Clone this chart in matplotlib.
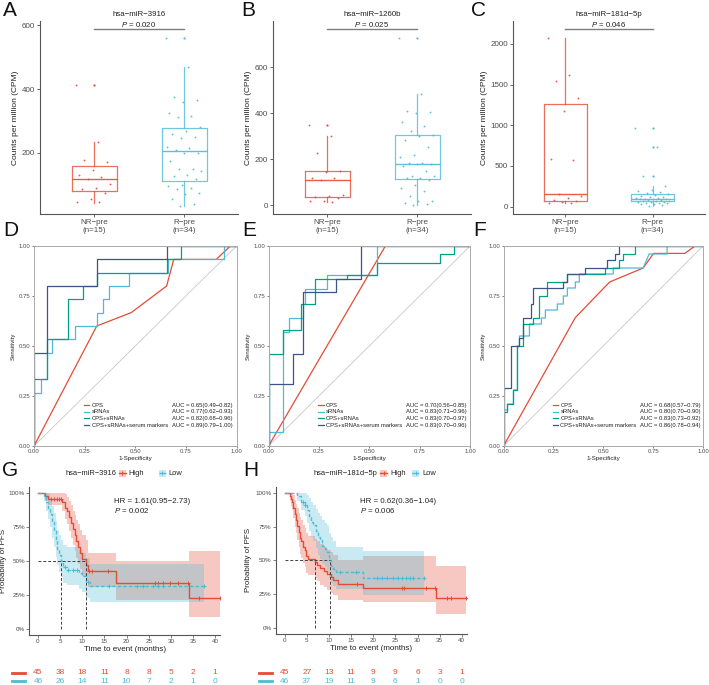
import numpy as np
import matplotlib
matplotlib.use('Agg')
import matplotlib.pyplot as plt
import matplotlib.transforms as mtrans
from matplotlib.lines import Line2D
from matplotlib.patches import Rectangle

plt.rcParams['font.family'] = ['Liberation Sans', 'DejaVu Sans']
plt.rcParams['mathtext.fontset'] = 'custom'
plt.rcParams['mathtext.it'] = 'Liberation Sans:italic'
plt.rcParams['mathtext.rm'] = 'Liberation Sans'

W, H = 709, 685
RED, CYAN, TEAL, NAVY = '#E64B35', '#4DBBD5', '#00A087', '#3C5488'
TXT = '#4D4D4D'

# ---------------- data: box plots ----------------
box_groups = ['NR−pre\n(n=15)', 'R−pre\n(n=34)']
box_titles = ['hsa−miR−3916', 'hsa−miR−1260b', 'hsa−miR−181d−5p']
box_p = ['0.020', '0.025', '0.046']
box_pbar = [588, 764, 2179]
box_yticks = [[200, 400, 600], [0, 200, 400, 600], [0, 500, 1000, 1500, 2000]]

a_nr_stats = [42, 80, 117, 158, 233]
a_r_stats = [34, 111, 205, 277, 470]
a_nr_out = [414]
a_r_out = [562]
a_nr_pts = [414, 233, 177, 172, 145, 129, 125, 117, 103, 90, 87, 75, 56, 47, 46]
a_r_pts = [562, 470, 376, 366, 361, 325, 315, 313, 280, 268, 258, 250, 248, 218, 215, 210, 200,
           198, 175, 150, 148, 143, 130, 128, 118, 100, 95, 90, 85, 75, 72, 55, 40, 34]

b_nr_stats = [16, 37, 109, 149, 301]
b_r_stats = [0, 112, 181, 307, 482]
b_nr_out = [348]
b_r_out = [728]
b_nr_pts = [348, 301, 228, 150, 145, 120, 118, 109, 45, 40, 35, 30, 20, 18, 16]
b_r_pts = [728, 482, 408, 405, 400, 360, 345, 322, 305, 300, 282, 255, 218, 210, 185, 182, 180,
           178, 170, 148, 128, 125, 120, 118, 108, 90, 75, 62, 40, 20, 18, 8, 4, 2]

c_nr_stats = [40, 68, 160, 1256, 2073]
c_r_stats = [12, 65, 98, 160, 250]
c_nr_out = []
c_r_out = [970, 730, 380]
c_nr_pts = [2073, 1620, 1540, 1330, 1180, 590, 570, 160, 130, 110, 80, 70, 60, 50, 40]
c_r_pts = [970, 730, 380, 250, 210, 195, 180, 165, 155, 145, 135, 125, 118, 110, 105, 100, 98,
           95, 90, 85, 80, 75, 70, 66, 62, 58, 54, 50, 45, 40, 35, 28, 20, 12]

# ---------------- data: ROC ----------------
roc_names = ['CPS', 'sRNAs', 'CPS+sRNAs', 'CPS+sRNAs+serum markers']
d_cps_x = [0, 0.31, 0.48, 0.655, 0.69, 0.90, 0.97, 1.0]
d_cps_y = [0, 0.60, 0.667, 0.80, 0.933, 0.933, 1.0, 1.0]
d_srna_x = [0, 0, 0.033, 0.033, 0.066, 0.066, 0.09, 0.09, 0.2, 0.2, 0.31, 0.31, 0.34, 0.34, 0.37,
            0.37, 0.47, 0.47, 0.66, 0.66, 0.94, 0.94, 1.0]
d_srna_y = [0, 0.267, 0.267, 0.333, 0.333, 0.467, 0.467, 0.533, 0.533, 0.6, 0.6, 0.667, 0.667,
            0.733, 0.733, 0.8, 0.8, 0.867, 0.867, 0.933, 0.933, 1.0, 1.0]
d_comb_x = [0, 0, 0.066, 0.066, 0.17, 0.17, 0.24, 0.24, 0.31, 0.31, 0.655, 0.655, 0.725, 0.725, 1.0]
d_comb_y = [0, 0.333, 0.333, 0.533, 0.533, 0.733, 0.733, 0.8, 0.8, 0.867, 0.867, 0.933, 0.933, 1.0, 1.0]
d_all_x = [0, 0, 0.066, 0.066, 0.31, 0.31, 0.655, 0.655, 1.0]
d_all_y = [0, 0.467, 0.467, 0.8, 0.8, 0.933, 0.933, 1.0, 1.0]
d_auc = ['0.65(0.49−0.82)', '0.77(0.62−0.93)', '0.82(0.68−0.96)', '0.89(0.79−1.00)']

e_cps_x = [0, 0.58, 1.0]
e_cps_y = [0, 1.0, 1.0]
e_srna_x = [0, 0, 0.071, 0.071, 0.1, 0.1, 0.17, 0.17, 0.18, 0.18, 0.29, 0.29, 0.537, 0.537, 1.0]
e_srna_y = [0, 0.07, 0.07, 0.57, 0.57, 0.64, 0.64, 0.71, 0.71, 0.786, 0.786, 0.857, 0.857, 1.0, 1.0]
e_comb_x = [0, 0, 0.071, 0.071, 0.16, 0.16, 0.23, 0.23, 0.39, 0.39, 0.537, 0.537, 0.85, 0.85,
            0.92, 0.92, 1.0]
e_comb_y = [0, 0.46, 0.46, 0.58, 0.58, 0.71, 0.71, 0.833, 0.833, 0.857, 0.857, 0.917, 0.917,
            0.958, 0.958, 1.0, 1.0]
e_all_x = [0, 0, 0.124, 0.124, 0.169, 0.169, 0.336, 0.336, 0.46, 0.46, 1.0]
e_all_y = [0, 0.31, 0.31, 0.46, 0.46, 0.77, 0.77, 0.833, 0.833, 1.0, 1.0]
e_auc = ['0.70(0.56−0.85)', '0.83(0.71−0.96)', '0.83(0.70−0.97)', '0.83(0.70−0.96)']

f_cps_x = [0, 0.36, 0.532, 0.70, 0.752, 0.909, 0.96, 1.0]
f_cps_y = [0, 0.642, 0.82, 0.89, 0.963, 0.963, 1.0, 1.0]
f_srna_x = [0, 0, 0.02, 0.02, 0.05, 0.05, 0.07, 0.07, 0.08, 0.08, 0.13, 0.13, 0.19, 0.19, 0.21,
            0.21, 0.27, 0.27, 0.30, 0.30, 0.32, 0.32, 0.36, 0.36, 0.38, 0.38, 0.55, 0.55, 0.70,
            0.73, 0.82, 0.82, 1.0]
f_srna_y = [0, 0.18, 0.18, 0.21, 0.21, 0.28, 0.28, 0.50, 0.50, 0.55, 0.55, 0.61, 0.61, 0.64, 0.64,
            0.68, 0.68, 0.71, 0.71, 0.75, 0.75, 0.79, 0.79, 0.82, 0.82, 0.86, 0.86, 0.89, 0.89,
            0.96, 0.96, 1.0, 1.0]
f_comb_x = [0, 0, 0.02, 0.02, 0.05, 0.05, 0.07, 0.07, 0.10, 0.10, 0.15, 0.15, 0.18, 0.18, 0.22,
            0.22, 0.32, 0.32, 0.51, 0.51, 0.58, 0.58, 0.60, 0.60, 0.66, 0.66, 1.0]
f_comb_y = [0, 0.17, 0.17, 0.21, 0.21, 0.28, 0.28, 0.50, 0.50, 0.61, 0.61, 0.64, 0.64, 0.75, 0.75,
            0.82, 0.82, 0.86, 0.86, 0.89, 0.89, 0.93, 0.93, 0.96, 0.96, 1.0, 1.0]
f_all_x = [0, 0, 0.04, 0.04, 0.08, 0.08, 0.10, 0.10, 0.14, 0.14, 0.15, 0.15, 0.30, 0.30, 0.32,
           0.32, 0.41, 0.41, 0.52, 0.52, 0.56, 0.56, 0.58, 0.58, 1.0]
f_all_y = [0, 0.29, 0.29, 0.50, 0.50, 0.54, 0.54, 0.64, 0.64, 0.71, 0.71, 0.79, 0.79, 0.82, 0.82,
           0.86, 0.86, 0.89, 0.89, 0.93, 0.93, 0.96, 0.96, 1.0, 1.0]
f_auc = ['0.68(0.57−0.79)', '0.80(0.70−0.90)', '0.83(0.73−0.92)', '0.86(0.78−0.94)']

# ---------------- data: Kaplan-Meier ----------------
km_times = [0, 5, 10, 15, 20, 25, 30, 35, 40]

g_hi_t = [0, 1.7, 2.3, 5.5, 6.0, 6.5, 7.0, 7.5, 8.0, 8.3, 8.7, 9.0, 9.5, 10.0, 10.9, 11.3, 17.6, 34.0, 41.0]
g_hi_s = [1.0, 0.978, 0.956, 0.933, 0.89, 0.867, 0.822, 0.78, 0.733, 0.69, 0.644, 0.6, 0.556,
          0.511, 0.467, 0.425, 0.336, 0.226, 0.226]
g_hi_up = [1.0, 1.0, 1.0, 1.0, 0.99, 0.97, 0.94, 0.91, 0.87, 0.84, 0.8, 0.77, 0.73, 0.69, 0.65,
           0.56, 0.5, 0.57, 0.57]
g_hi_lo = [1.0, 0.94, 0.91, 0.87, 0.81, 0.77, 0.72, 0.67, 0.62, 0.57, 0.52, 0.48, 0.44, 0.39,
           0.35, 0.31, 0.21, 0.09, 0.09]
g_lo_t = [0, 1.3, 1.8, 2.3, 2.8, 3.2, 3.6, 4.0, 4.4, 4.8, 5.2, 5.6, 6.5, 9.3, 9.9, 10.8, 11.8, 37.5]
g_lo_s = [1.0, 0.978, 0.935, 0.891, 0.848, 0.783, 0.717, 0.652, 0.587, 0.543, 0.5, 0.457, 0.435,
          0.413, 0.391, 0.348, 0.316, 0.316]
g_lo_up = [1.0, 1.0, 1.0, 1.0, 0.96, 0.9, 0.85, 0.79, 0.73, 0.69, 0.65, 0.62, 0.6, 0.58, 0.56,
           0.52, 0.48, 0.48]
g_lo_lo = [1.0, 0.94, 0.87, 0.81, 0.75, 0.67, 0.6, 0.53, 0.47, 0.42, 0.38, 0.34, 0.32, 0.29, 0.27,
           0.23, 0.2, 0.2]
g_hi_cens = [3.0, 3.6, 4.2, 4.8, 5.3, 11.6, 12.3, 15.9, 26.4, 27.2, 28.3, 29.8, 31.7, 33.8, 36.4, 41.0]
g_lo_cens = [6.0, 6.8, 8.0, 8.8, 11.4, 16.0, 22.3, 23.8, 26.0, 27.2, 28.3, 37.5]
g_medians = [5.3, 10.9]
g_hr = 'HR = 1.61(0.95−2.73)'
g_p = '0.002'
g_risk_hi = [45, 38, 18, 11, 8, 8, 5, 2, 1]
g_risk_lo = [46, 26, 14, 11, 10, 7, 2, 1, 0]

h_hi_t = [0, 1.1, 1.4, 1.7, 2.0, 2.3, 2.6, 2.9, 3.2, 3.5, 3.8, 4.1, 4.5, 4.9, 5.3, 6.8, 7.3, 8.0,
          8.8, 9.6, 10.4, 11.0, 12.0, 17.6, 34.2, 41.0]
h_hi_s = [1.0, 0.978, 0.956, 0.933, 0.889, 0.844, 0.8, 0.756, 0.711, 0.667, 0.644, 0.6, 0.578,
          0.533, 0.511, 0.489, 0.467, 0.444, 0.422, 0.4, 0.378, 0.356, 0.323, 0.293, 0.225, 0.225]
h_hi_up = [1.0, 1.0, 1.0, 1.0, 0.98, 0.95, 0.92, 0.89, 0.85, 0.82, 0.8, 0.76, 0.74, 0.7, 0.68,
           0.66, 0.64, 0.62, 0.6, 0.58, 0.56, 0.54, 0.5, 0.53, 0.46, 0.46]
h_hi_lo = [1.0, 0.94, 0.9, 0.87, 0.81, 0.75, 0.7, 0.65, 0.6, 0.55, 0.52, 0.48, 0.45, 0.41, 0.39,
           0.37, 0.35, 0.32, 0.3, 0.28, 0.26, 0.24, 0.21, 0.19, 0.1, 0.1]
h_lo_t = [0, 2.8, 3.6, 4.5, 5.0, 5.5, 6.0, 6.5, 7.0, 7.5, 8.0, 8.5, 9.0, 9.5, 10.0, 10.5, 11.0,
          11.5, 17.6, 31.5]
h_lo_s = [1.0, 0.978, 0.935, 0.913, 0.87, 0.826, 0.783, 0.76, 0.717, 0.674, 0.652, 0.609, 0.587,
          0.565, 0.5, 0.457, 0.435, 0.413, 0.37, 0.37]
h_lo_up = [1.0, 1.0, 1.0, 1.0, 0.98, 0.96, 0.93, 0.91, 0.88, 0.85, 0.83, 0.8, 0.78, 0.76, 0.7,
           0.67, 0.64, 0.6, 0.57, 0.57]
h_lo_lo = [1.0, 0.94, 0.87, 0.83, 0.78, 0.72, 0.67, 0.64, 0.59, 0.54, 0.51, 0.47, 0.45, 0.43,
           0.37, 0.33, 0.31, 0.29, 0.24, 0.24]
h_hi_cens = [16.3, 26.6, 26.9, 31.9, 34.0, 36.6, 37.5, 41.0]
h_lo_cens = [4.1, 4.5, 12.5, 16.0, 20.8, 22.0, 23.2, 24.5, 25.5, 26.5, 27.5, 28.3, 29.0, 31.5]
h_medians = [6.8, 10.2]
h_hr = 'HR = 0.62(0.36−1.04)'
h_p = '0.006'
h_risk_hi = [45, 27, 13, 11, 9, 9, 6, 3, 1]
h_risk_lo = [46, 37, 19, 11, 9, 6, 1, 0, 0]

km_groups = ['High', 'Low']
km_titles = ['hsa−miR−3916', 'hsa−miR−181d−5p']

# ---------------- helpers ----------------
fig = plt.figure(figsize=(W / 100, H / 100), dpi=100)


def rect(l, t, r, b):
    return [l / W, 1 - b / H, (r - l) / W, (b - t) / H]


def fx(p):
    return p / W


def fy(p):
    return 1 - p / H


def style_spines(ax, color='#333333', lw=0.8):
    for s in ['top', 'right']:
        ax.spines[s].set_visible(False)
    for s in ['left', 'bottom']:
        ax.spines[s].set_color(color)
        ax.spines[s].set_linewidth(lw)


def box_panel(r, stats, outs, pts, ylim, yticks, title, p, pbar):
    ax = fig.add_axes(rect(*r))
    cols = [RED, CYAN]
    for i in range(2):
        col = cols[i]
        st = stats[i]
        ax.bxp([dict(whislo=st[0], q1=st[1], med=st[2], q3=st[3], whishi=st[4], fliers=outs[i])],
               positions=[i + 1], widths=0.5, showcaps=False,
               boxprops=dict(color=col, lw=0.9, alpha=0.8),
               whiskerprops=dict(color=col, lw=0.9, alpha=0.8),
               medianprops=dict(color=col, lw=1.0, alpha=0.9),
               flierprops=dict(marker='o', markersize=1.6, markerfacecolor=col,
                               markeredgecolor='none'))
        n = len(pts[i])
        off = ((np.arange(n) * 0.618034) % 1 - 0.5) * 0.4
        ax.scatter(i + 1 + off, pts[i], s=1.8, color=col, lw=0, alpha=0.9)
    ax.set_xlim(0.4, 2.6)
    ax.set_ylim(*ylim)
    ax.set_xticks([1, 2])
    ax.set_xticklabels(box_groups, fontsize=5.8, color=TXT, linespacing=1.3)
    ax.set_yticks(yticks)
    ax.tick_params(axis='both', labelsize=5.8, colors=TXT, length=2, width=0.6, pad=1.5)
    style_spines(ax, '#555555', 0.8)
    ax.plot([1, 2], [pbar, pbar], color='#7F7F7F', lw=1.0, clip_on=False)
    ax.text(1.5, pbar, '$P$ = ' + p, ha='center', va='bottom', fontsize=5.6, color='#222222')
    ax.set_ylabel('Counts per million (CPM)', fontsize=6, color='#222222', labelpad=2)
    fig.text(fx((r[0] + r[2]) / 2), fy(14), title, ha='center', va='center', fontsize=5.7,
             color='#222222')
    return ax


def roc_panel(r, curves, aucs):
    ax = fig.add_axes(rect(*r))
    ax.plot([0, 1], [0, 1], color='#C8C8C8', lw=0.6)
    for (x, y), col in zip(curves, [RED, CYAN, TEAL, NAVY]):
        ax.plot(x, y, color=col, lw=0.9)
    ax.set_xlim(0, 1)
    ax.set_ylim(0, 1)
    t = [0, 0.25, 0.5, 0.75, 1]
    tl = ['0.00', '0.25', '0.50', '0.75', '1.00']
    ax.set_xticks(t)
    ax.set_xticklabels(tl)
    ax.set_yticks(t)
    ax.set_yticklabels(tl)
    ax.tick_params(axis='both', labelsize=4.3, colors=TXT, length=1.5, width=0.5, pad=1)
    for s in ax.spines.values():
        s.set_color('#AAAAAA')
        s.set_linewidth(0.7)
    ax.set_xlabel('1-Specificity', fontsize=4.5, color='#222222', labelpad=1)
    ax.set_ylabel('Sensitivity', fontsize=4.3, color='#222222', labelpad=2)
    ys = [0.205, 0.171, 0.138, 0.104]
    for k, col in enumerate([RED, CYAN, TEAL, NAVY]):
        ax.plot([0.248, 0.273], [ys[k], ys[k]], color=col, lw=0.9)
        ax.text(0.285, ys[k], roc_names[k], fontsize=4.2, va='center', color='#222222')
        ax.text(0.683, ys[k], 'AUC = ' + aucs[k], fontsize=4.2, va='center', color='#222222')
    return ax


def step_at(t, s, c):
    t = np.asarray(t)
    s = np.asarray(s)
    idx = np.searchsorted(t, c, side='right') - 1
    return s[np.clip(idx, 0, len(s) - 1)]


def km_panel(r, hi, lo, cens_hi, cens_lo, medians, hr, p, risk_hi, risk_lo, ylab_x):
    ax = fig.add_axes(rect(*r))
    (ht, hs, hu, hl), (lt, ls, lu, ll) = hi, lo
    ax.fill_between(ht, hl, hu, step='post', color=RED, alpha=0.3, lw=0)
    ax.fill_between(lt, ll, lu, step='post', color=CYAN, alpha=0.3, lw=0)
    ax.step(ht, hs, where='post', color=RED, lw=1.0)
    ax.step(lt, ls, where='post', color=CYAN, lw=1.0, ls=(0, (2.5, 1.5)))
    ax.plot(cens_hi, step_at(ht, hs, cens_hi), ls='none', marker='+', ms=3.5, mew=0.7, color=RED)
    ax.plot(cens_lo, step_at(lt, ls, cens_lo), ls='none', marker='+', ms=3.5, mew=0.7, color=CYAN)
    dash = dict(color='#404040', lw=0.7, ls=(0, (3, 2)))
    ax.plot([0, max(medians)], [0.5, 0.5], **dash)
    for m in medians:
        ax.plot([m, m], [0, 0.5], **dash)
    ax.set_xlim(-1.95, 41.1)
    ax.set_ylim(-0.045, 1.045)
    ax.set_xticks(km_times)
    ax.set_yticks([0, 0.25, 0.5, 0.75, 1.0])
    ax.set_yticklabels(['0%', '25%', '50%', '75%', '100%'])
    ax.tick_params(axis='both', labelsize=4.5, colors=TXT, length=2, width=0.5, pad=1.2)
    style_spines(ax, '#555555', 0.8)
    ax.set_xlabel('Time to event (months)', fontsize=5.8, color='#222222', labelpad=1)
    ax.set_ylabel('Probability of PFS', fontsize=5.8, color='#222222')
    ax.yaxis.set_label_coords((ylab_x - r[0]) / (r[2] - r[0]), 0.5)
    ax.text(17.1, 0.935, hr, fontsize=5.7, va='center', color='#222222')
    ax.text(17.1, 0.872, '$P$ = ' + p, fontsize=5.7, va='center', color='#222222')
    tr = mtrans.blended_transform_factory(ax.transData, fig.transFigure)
    for i, tt in enumerate(km_times):
        ax.text(tt, fy(672.7), str(risk_hi[i]), transform=tr, ha='center', va='center',
                fontsize=6.0, color=RED)
        ax.text(tt, fy(681.2), str(risk_lo[i]), transform=tr, ha='center', va='center',
                fontsize=6.0, color=CYAN)
    return ax


def km_legend(title, title_right, hi_key, lo_key, y=473.3):
    fig.text(fx(title_right), fy(y), title, ha='right', va='center', fontsize=5.4, color='#222222')
    for x0, col, lab, lst in [(hi_key, RED, km_groups[0], '-'), (lo_key, CYAN, km_groups[1], (0, (2, 1)))]:
        fig.add_artist(Rectangle((fx(x0), fy(y + 3.5)), 7 / W, 7 / H, transform=fig.transFigure,
                                 facecolor=col, alpha=0.3, lw=0))
        fig.add_artist(Line2D([fx(x0), fx(x0 + 7)], [fy(y), fy(y)], color=col, lw=1.0, ls=lst))
        fig.add_artist(Line2D([fx(x0 + 3.5)], [fy(y)], color=col, marker='+', ms=3.5, mew=0.7))
        fig.text(fx(x0 + 10), fy(y), lab, ha='left', va='center', fontsize=5.4, color='#222222')


# ---------------- draw ----------------
box_panel((40, 20.7, 238, 214), [a_nr_stats, a_r_stats], [a_nr_out, a_r_out],
          [a_nr_pts, a_r_pts], (8, 615), box_yticks[0], box_titles[0], box_p[0], box_pbar[0])
box_panel((273, 20.7, 471, 214), [b_nr_stats, b_r_stats], [b_nr_out, b_r_out],
          [b_nr_pts, b_r_pts], (-38, 802), box_yticks[1], box_titles[1], box_p[1], box_pbar[1])
box_panel((513, 20.7, 705, 214), [c_nr_stats, c_r_stats], [c_nr_out, c_r_out],
          [c_nr_pts, c_r_pts], (-90, 2285), box_yticks[2], box_titles[2], box_p[2], box_pbar[2])

roc_panel((34, 246, 236.5, 446),
          [(d_cps_x, d_cps_y), (d_srna_x, d_srna_y), (d_comb_x, d_comb_y), (d_all_x, d_all_y)], d_auc)
roc_panel((268.5, 246, 470, 446),
          [(e_cps_x, e_cps_y), (e_srna_x, e_srna_y), (e_comb_x, e_comb_y), (e_all_x, e_all_y)], e_auc)
roc_panel((503.5, 246, 703, 446),
          [(f_cps_x, f_cps_y), (f_srna_x, f_srna_y), (f_comb_x, f_comb_y), (f_all_x, f_all_y)], f_auc)

km_panel((29.3, 486.7, 220, 635), (g_hi_t, g_hi_s, g_hi_up, g_hi_lo),
         (g_lo_t, g_lo_s, g_lo_up, g_lo_lo), g_hi_cens, g_lo_cens, g_medians, g_hr, g_p,
         g_risk_hi, g_risk_lo, 6.5)
km_panel((276, 486.7, 466.7, 634), (h_hi_t, h_hi_s, h_hi_up, h_hi_lo),
         (h_lo_t, h_lo_s, h_lo_up, h_lo_lo), h_hi_cens, h_lo_cens, h_medians, h_hr, h_p,
         h_risk_hi, h_risk_lo, 252)

km_legend(km_titles[0], 117, 118.5, 158.5)
km_legend(km_titles[1], 377.5, 380, 412)

# risk table keys
for x0 in [12, 259]:
    fig.add_artist(Line2D([fx(x0), fx(x0 + 13)], [fy(672.5), fy(672.5)], color=RED, lw=2.0))
    fig.add_artist(Line2D([fx(x0), fx(x0 + 13)], [fy(681), fy(681)], color=CYAN, lw=2.0))

# panel letters
for lab, x, y in [('A', 3, 11), ('B', 241, 11), ('C', 471, 11), ('D', 3, 231), ('E', 242, 231),
                  ('F', 473, 231), ('G', 2, 470), ('H', 243, 471)]:
    fig.text(fx(x), fy(y), lab, fontsize=15, ha='left', va='center', color='#111111')

fig.savefig('out.png', dpi=100)
